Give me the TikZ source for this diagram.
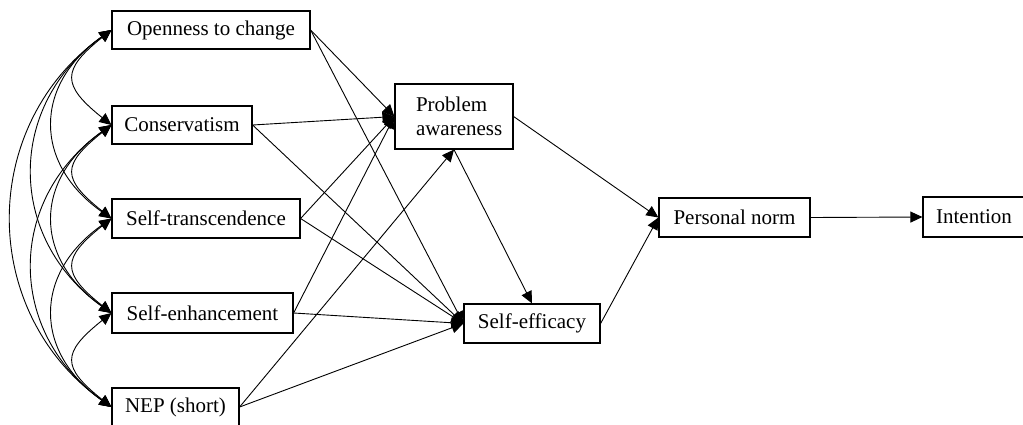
\documentclass[tikz,border=0pt]{standalone}
\usepackage{fontspec}
\setmainfont{Liberation Serif}
\usetikzlibrary{arrows.meta}
\begin{document}
\begin{tikzpicture}[x=0.5pt,y=-0.5pt,
  >={Triangle[length=6pt,width=5.5pt]},
  box/.style={draw, line width=0.6pt, inner sep=0pt, font=\rmfamily\fontsize{10.5pt}{12pt}\selectfont},
  conn/.style={->, line width=0.45pt},
  cov/.style={<->, line width=0.45pt}]
\useasboundingbox (0,0) rectangle (1023,424);
% left boxes
\node[box, minimum width=99pt, minimum height=19pt] (op) at (211,30) {Openness to change};
\node[box, minimum width=70pt, minimum height=19pt] (co) at (182,125) {Conservatism};
\node[box, minimum width=94pt, minimum height=19.5pt] (st) at (206,218.5) {Self-transcendence};
\node[box, minimum width=90.5pt, minimum height=20pt] (sen) at (202.5,313) {Self-enhancement};
\node[box, minimum width=63.5pt, minimum height=19pt] (nep) at (175.5,407) {NEP (short)};
% middle / right boxes
\node[box, minimum width=59pt, minimum height=32.5pt, align=left, text width=52pt] (pa) at (454,116.5) {\hspace*{7pt}Problem\\\hspace*{7pt}awareness};
\node[box, minimum width=68pt, minimum height=19.5pt] (se) at (532,323.5) {Self-efficacy};
\node[box, minimum width=75.5pt, minimum height=19.5pt] (pn) at (734.5,217.5) {Personal norm};
\node[box, minimum width=51pt, minimum height=20pt] (int) at (974,217) {Intention};
% paths
\draw[conn] (op.east) -- (pa.west);
\draw[conn] (op.east) -- (se.west);
\draw[conn] (co.east) -- (pa.west);
\draw[conn] (co.east) -- (se.west);
\draw[conn] (st.east) -- (pa.west);
\draw[conn] (st.east) -- (se.west);
\draw[conn] (sen.east) -- (pa.west);
\draw[conn] (sen.east) -- (se.west);
\draw[conn] (nep.east) -- (pa.south);
\draw[conn] (nep.east) -- (se.west);
\draw[conn] (pa.south) -- (se.north);
\draw[conn] (pa.east) -- (pn.west);
\draw[conn] (se.east) -- (pn.west);
\draw[conn] (pn.east) -- (int.west);
% covariances, distance 1
\draw[cov] (op.west) .. controls +(-50,40) and +(-50,-40) .. (co.west);
\draw[cov] (co.west) .. controls +(-50,40) and +(-50,-40) .. (st.west);
\draw[cov] (st.west) .. controls +(-50,40) and +(-50,-40) .. (sen.west);
\draw[cov] (sen.west) .. controls +(-50,40) and +(-50,-40) .. (nep.west);
% distance 2
\draw[cov] (op.west) .. controls +(-78,55) and +(-78,-55) .. (st.west);
\draw[cov] (co.west) .. controls +(-78,55) and +(-78,-55) .. (sen.west);
\draw[cov] (st.west) .. controls +(-78,55) and +(-78,-55) .. (nep.west);
% distance 3
\draw[cov] (op.west) .. controls +(-105,75) and +(-105,-75) .. (sen.west);
\draw[cov] (co.west) .. controls +(-105,75) and +(-105,-75) .. (nep.west);
% distance 4
\draw[cov] (op.west) .. controls +(-133,95) and +(-133,-95) .. (nep.west);
\end{tikzpicture}
\end{document}
